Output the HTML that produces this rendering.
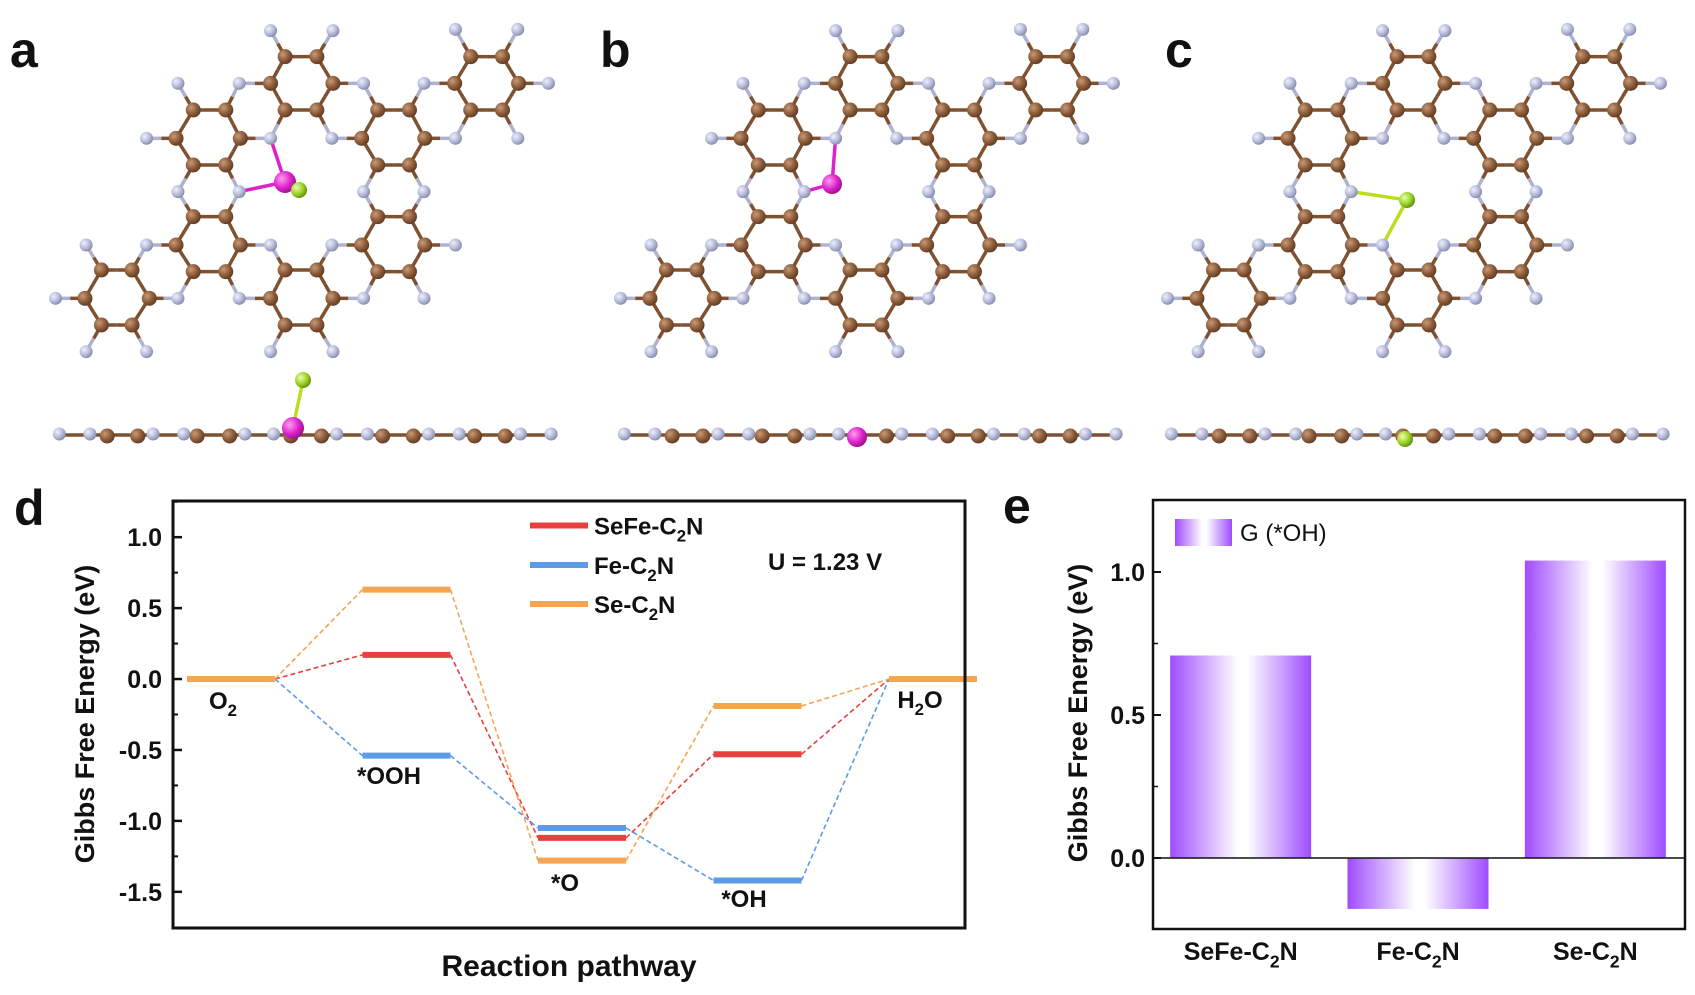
<!DOCTYPE html>
<html><head><meta charset="utf-8"><style>
html,body{margin:0;padding:0;background:#fff;}
svg{display:block;}
text{font-family:"Liberation Sans Narrow","Liberation Sans",sans-serif;font-weight:bold;fill:#111;}
.wide{font-family:"Liberation Sans",sans-serif;}
</style></head><body>
<svg id="fig" width="1695" height="995" viewBox="0 0 1695 995" xmlns="http://www.w3.org/2000/svg">
<defs>
<radialGradient id="gC" cx="35%" cy="35%" r="70%"><stop offset="0" stop-color="#c99a78"/><stop offset="0.6" stop-color="#8a5a38"/><stop offset="1" stop-color="#5e3a22"/></radialGradient>
<radialGradient id="gN" cx="35%" cy="35%" r="70%"><stop offset="0" stop-color="#eef0ff"/><stop offset="0.6" stop-color="#b4b8d6"/><stop offset="1" stop-color="#8488a8"/></radialGradient>
<radialGradient id="gFe" cx="35%" cy="35%" r="70%"><stop offset="0" stop-color="#ff9cf2"/><stop offset="0.6" stop-color="#dd22cc"/><stop offset="1" stop-color="#991188"/></radialGradient>
<radialGradient id="gSe" cx="35%" cy="35%" r="70%"><stop offset="0" stop-color="#eaffb0"/><stop offset="0.6" stop-color="#9ad020"/><stop offset="1" stop-color="#5e8a10"/></radialGradient>
<linearGradient id="barGrad" x1="0" y1="0" x2="1" y2="0"><stop offset="0" stop-color="#9f4cff"/><stop offset="0.48" stop-color="#ffffff"/><stop offset="0.55" stop-color="#ffffff"/><stop offset="1" stop-color="#9f4cff"/></linearGradient>
</defs>
<g id="molecules"></g>
<text x="10" y="67" class="wide" font-size="50">a</text>
<text x="600" y="67" class="wide" font-size="50">b</text>
<text x="1165" y="67" class="wide" font-size="50">c</text>
<text x="14" y="525" class="wide" font-size="50">d</text>
<text x="1003" y="523" class="wide" font-size="50">e</text>
<g id="chartD"></g>
<g id="chartE"></g>
</svg>
<script>
// ---- Panel d data ----
const steps = ["O2", "*OOH", "*O", "*OH", "H2O"];
const seriesNames = ["SeFe-C2N", "Fe-C2N", "Se-C2N"];
const seFeValues = [0, 0.17, -1.12, -0.53, 0];
const feValues = [0, -0.54, -1.05, -1.42, 0];
const seValues = [0, 0.63, -1.28, -0.19, 0];
const dTicks = [1.0, 0.5, 0.0, -0.5, -1.0, -1.5];
const dTickLabels = ["1.0", "0.5", "0.0", "-0.5", "-1.0", "-1.5"];
// ---- Panel e data ----
const eCategories = ["SeFe-C2N", "Fe-C2N", "Se-C2N"];
const eValues = [0.708, -0.178, 1.04];
const eTicks = [0.0, 0.5, 1.0];
const eTickLabels = ["0.0", "0.5", "1.0"];

const NS = "http://www.w3.org/2000/svg";
function mk(tag, attrs, parent) {
  const e = document.createElementNS(NS, tag);
  for (const k in attrs) e.setAttribute(k, attrs[k]);
  parent.appendChild(e);
  return e;
}
function sub(t, parts, size) {
  t.textContent = "";
  const a = document.createElementNS(NS, "tspan"); a.textContent = parts[0]; t.appendChild(a);
  if (parts[1]) {
    const s = document.createElementNS(NS, "tspan"); s.textContent = parts[1];
    s.setAttribute("dy", size * 0.3); s.setAttribute("font-size", size * 0.7); t.appendChild(s);
    const c = document.createElementNS(NS, "tspan"); c.textContent = parts[2];
    c.setAttribute("dy", -size * 0.3); t.appendChild(c);
  }
}
function splitName(n) { const i = n.indexOf("2"); return i < 0 ? [n] : [n.slice(0, i), "2", n.slice(i + 1)]; }

// ================= Panel d =================
(function () {
  const g = document.getElementById("chartD");
  const L = 173, R = 965, T = 501, B = 928;
  const yMin = -1.755, yMax = 1.255;
  const y = v => B - (v - yMin) / (yMax - yMin) * (B - T);
  const stepX0 = 187, stepDx = 175.5, stepW = 88;
  const xs = i => stepX0 + i * stepDx;
  const colors = ["#e8403f", "#5b9be8", "#f5a552"];
  const allSeries = [seFeValues, feValues, seValues];
  allSeries.forEach((vals, s) => {
    for (let i = 0; i < vals.length - 1; i++) {
      const ln = mk("line", { x1: xs(i) + stepW, y1: y(vals[i]), x2: xs(i + 1), y2: y(vals[i + 1]), stroke: colors[s], "stroke-width": 1.6, "stroke-dasharray": "5,3" }, g);
      
      
    }
  });
  allSeries.forEach((vals, s) => {
    vals.forEach((v, i) => {
      const ln = mk("line", { x1: xs(i), y1: y(v), x2: xs(i) + stepW, y2: y(v), stroke: colors[s], "stroke-width": 6 }, g);
      
      
    });
  });
  const fr = mk("rect", { x: L, y: T, width: R - L, height: B - T, fill: "none", stroke: "#111", "stroke-width": 3 }, g);
  
  
  dTicks.forEach((v, i) => {
    const tk = mk("line", { x1: L, x2: L + 9, y1: y(v), y2: y(v), stroke: "#111", "stroke-width": 2.5 }, g);
    
    
    const mt = mk("line", { x1: L, x2: L + 5, y1: y(v + 0.25), y2: y(v + 0.25), stroke: "#111", "stroke-width": 2 }, g);
    
    
    const t = mk("text", { x: 162, y: y(v) + 9, "text-anchor": "end", "font-size": 25 }, g);
    t.textContent = dTickLabels[i];
    
    
  });
  const labPos = [[223, 709, 0], [389, 784, 1], [565, 891, 2], [744, 907, 3], [920, 708, 4]];
  labPos.forEach((p, k) => {
    const t = mk("text", { x: p[0], y: p[1], "text-anchor": "middle", "font-size": 24 }, g);
    const nm = steps[p[2]];
    if (nm === "O2") sub(t, ["O", "2", ""], 24);
    else if (nm === "H2O") sub(t, ["H", "2", "O"], 24);
    else t.textContent = nm;
    
    
  });
  seriesNames.forEach((n, s) => {
    const ly = [525.5, 565, 604][s];
    const ln = mk("line", { x1: 530, x2: 588, y1: ly, y2: ly, stroke: colors[s], "stroke-width": 6 }, g);
    
    
    const t = mk("text", { x: 594, y: ly + 9, "font-size": 24 }, g);
    sub(t, splitName(n), 24);
    
    
  });
  const u = mk("text", { x: 768, y: 570, "font-size": 24 }, g);
  u.textContent = "U = 1.23 V";
  
  
  const yt = mk("text", { x: 94, y: 714, "text-anchor": "middle", "font-size": 27, class: "wide", transform: "rotate(-90 94 714)" }, g);
  yt.textContent = "Gibbs Free Energy (eV)";
  
  
  const xt = mk("text", { x: 569, y: 976, "text-anchor": "middle", "font-size": 30 }, g);
  xt.textContent = "Reaction pathway";
  
  
})();

// ================= Panel e =================
(function () {
  const g = document.getElementById("chartE");
  const L = 1153, R = 1685, T = 500, B = 929;
  const y0 = 858, perUnit = 286;
  const y = v => y0 - v * perUnit;
  const bandW = (R - L) / 3, barW = 141;
  const xc = i => L + bandW * (i + 0.5) - 1;
  eValues.forEach((v, i) => {
    const r = mk("rect", { x: xc(i) - barW / 2, y: Math.min(y(v), y(0)), width: barW, height: Math.abs(y(v) - y(0)), fill: "url(#barGrad)" }, g);
    
    
    const t = mk("text", { x: xc(i), y: 960, "text-anchor": "middle", "font-size": 25 }, g);
    sub(t, splitName(eCategories[i]), 25);
    
    
  });
  const zl = mk("line", { x1: L, x2: R, y1: y(0), y2: y(0), stroke: "#111", "stroke-width": 1.5 }, g);
  
  
  const fr = mk("rect", { x: L, y: T, width: R - L, height: B - T, fill: "none", stroke: "#111", "stroke-width": 2.5 }, g);
  
  
  eTicks.forEach((v, i) => {
    const tk = mk("line", { x1: L, x2: L + 8, y1: y(v), y2: y(v), stroke: "#111", "stroke-width": 2 }, g);
    
    
    const mt = mk("line", { x1: L, x2: L + 5, y1: y(v + 0.25), y2: y(v + 0.25), stroke: "#111", "stroke-width": 1.5 }, g);
    
    
    const t = mk("text", { x: 1145, y: y(v) + 9, "text-anchor": "end", "font-size": 25 }, g);
    t.textContent = eTickLabels[i];
    
    
  });
  const sw = mk("rect", { x: 1175, y: 519, width: 57, height: 27, fill: "url(#barGrad)" }, g);
  
  
  const lt = mk("text", { x: 1240, y: 541, "font-size": 24, style: "font-weight:normal" }, g);
  lt.textContent = "G (*OH)";
  
  
  const yt = mk("text", { x: 1087, y: 713, "text-anchor": "middle", "font-size": 27, class: "wide", transform: "rotate(-90 1087 713)" }, g);
  yt.textContent = "Gibbs Free Energy (eV)";
  
  
})();

// ================= Molecules =================
(function () {
  const g = document.getElementById("molecules");
  const fx = 2.613, fy = 3.0;
  const greyZ = [[707,92],[870,92],[1190,88],[1353,88],[465,250],[625,250],[950,250],[1108,250],[1433,250],[383,415],[707,415],[867,415],[1190,415],[1353,415],[465,575],[625,575],[950,575],[1108,575],[383,735],[707,735],[867,735],[1190,735],[225,735],[145,895],[465,895],[625,895],[950,895],[1108,895],[225,1055],[383,1055],[707,1055],[870,1055]];
  const brownZ = [[745,170],[828,170],[1230,170],[1313,170],[707,250],[870,250],[1188,250],[1355,250],[505,330],[590,330],[745,330],[828,330],[987,330],[1070,330],[1230,330],[1313,330],[460,415],[628,415],[945,415],[1110,415],[505,495],[590,495],[987,495],[1070,495],[505,650],[590,650],[987,650],[1070,650],[460,735],[628,735],[945,735],[1110,735],[265,810],[345,810],[505,815],[590,815],[745,810],[828,810],[987,815],[1070,815],[222,895],[390,895],[707,895],[870,895],[265,975],[345,975],[745,975],[828,975]];
  const sideZ = [[155,'N'],[235,'N'],[280,'C'],[360,'C'],[400,'N'],[480,'N'],[515,'C'],[600,'C'],[640,'N'],[715,'N'],[760,'C'],[840,'C'],[880,'N'],[960,'N'],[1000,'C'],[1080,'C'],[1120,'N'],[1200,'N'],[1240,'C'],[1320,'C'],[1360,'N'],[1440,'N']];
  const panels = [0, 565, 1112];
  const atoms = [];
  greyZ.forEach(p => atoms.push({ x: p[0] / fx, y: p[1] / fy, t: 'N' }));
  brownZ.forEach(p => atoms.push({ x: p[0] / fx, y: p[1] / fy, t: 'C' }));
  const col = { C: "#7d5030", N: "#aeb2d0" };
  panels.forEach((dx, pi) => {
    const pg = mk("g", { transform: "translate(" + dx + ",0)" }, g);
    
    
    for (let i = 0; i < atoms.length; i++) for (let j = i + 1; j < atoms.length; j++) {
      const a = atoms[i], b = atoms[j];
      if (a.t === 'N' && b.t === 'N') continue;
      const d = Math.hypot(a.x - b.x, a.y - b.y);
      if (d < 36) {
        const mx = (a.x + b.x) / 2, my = (a.y + b.y) / 2;
        mk("line", { x1: a.x, y1: a.y, x2: mx, y2: my, stroke: col[a.t], "stroke-width": 3.5 }, pg);
        mk("line", { x1: mx, y1: my, x2: b.x, y2: b.y, stroke: col[b.t], "stroke-width": 3.5 }, pg);
      }
    }
    for (let k = 0; k < sideZ.length - 1; k++) {
      mk("line", { x1: sideZ[k][0] / fx, y1: 435, x2: sideZ[k + 1][0] / fx, y2: 435, stroke: "#7d5030", "stroke-width": 3.5 }, pg);
    }
    if (pi === 0) {
      mk("line", { x1: 707 / fx, y1: 415 / fy, x2: 285, y2: 182, stroke: "#dd22cc", "stroke-width": 3.5 }, pg);
      mk("line", { x1: 625 / fx, y1: 575 / fy, x2: 285, y2: 182, stroke: "#dd22cc", "stroke-width": 3.5 }, pg);
      mk("line", { x1: 293, y1: 427, x2: 303, y2: 381, stroke: "#bbdd22", "stroke-width": 3.5 }, pg);
    } else if (pi === 1) {
      mk("line", { x1: 707 / fx, y1: 415 / fy, x2: 267, y2: 184, stroke: "#dd22cc", "stroke-width": 3.5 }, pg);
      mk("line", { x1: 625 / fx, y1: 575 / fy, x2: 267, y2: 184, stroke: "#dd22cc", "stroke-width": 3.5 }, pg);
    } else {
      mk("line", { x1: 625 / fx, y1: 575 / fy, x2: 295, y2: 200, stroke: "#bbdd22", "stroke-width": 3.5 }, pg);
      mk("line", { x1: 707 / fx, y1: 735 / fy, x2: 295, y2: 200, stroke: "#bbdd22", "stroke-width": 3.5 }, pg);
    }
    atoms.forEach(a => mk("circle", { cx: a.x, cy: a.y, r: a.t === 'C' ? 7.5 : 6.5, fill: a.t === 'C' ? "url(#gC)" : "url(#gN)" }, pg));
    sideZ.forEach(s => mk("circle", { cx: s[0] / fx, cy: 435 + (s[1] === 'C' ? 1 : -1), r: s[1] === 'C' ? 7.5 : 6.5, fill: s[1] === 'C' ? "url(#gC)" : "url(#gN)" }, pg));
    if (pi === 0) {
      mk("circle", { cx: 285, cy: 182, r: 11, fill: "url(#gFe)" }, pg);
      mk("circle", { cx: 299, cy: 190, r: 8, fill: "url(#gSe)" }, pg);
      mk("circle", { cx: 293, cy: 428, r: 11, fill: "url(#gFe)" }, pg);
      mk("circle", { cx: 303, cy: 380, r: 8, fill: "url(#gSe)" }, pg);
    } else if (pi === 1) {
      mk("circle", { cx: 267, cy: 184, r: 10, fill: "url(#gFe)" }, pg);
      mk("circle", { cx: 292, cy: 437, r: 10, fill: "url(#gFe)" }, pg);
    } else {
      mk("circle", { cx: 295, cy: 200, r: 8, fill: "url(#gSe)" }, pg);
      mk("circle", { cx: 293, cy: 439, r: 8, fill: "url(#gSe)" }, pg);
    }
  });
})();
</script>
</body></html>
